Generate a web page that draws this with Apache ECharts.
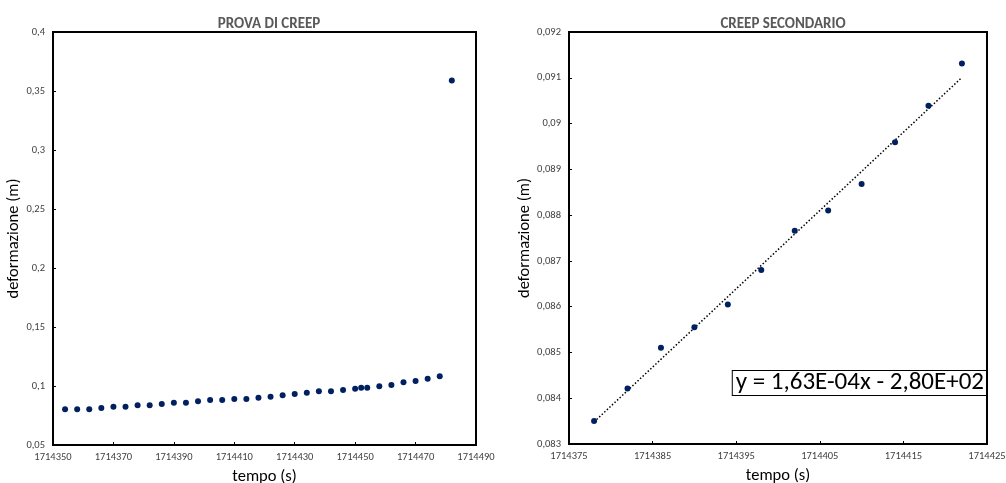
<!DOCTYPE html>
<html>
<head>
<meta charset="utf-8">
<script src="https://cdn.jsdelivr.net/npm/echarts@6/dist/echarts.min.js"></script>
<style>
html,body{margin:0;padding:0;background:#fff;}
#c{width:1006px;height:483px;}
</style>
</head>
<body>
<div id="c"></div>
<script>
// ---- data ----
const titleLeft = 'PROVA DI CREEP';
const titleRight = 'CREEP SECONDARIO';
const xName = 'tempo (s)';
const yName = 'deformazione (m)';
const equationText = 'y = 1,63E-04x - 2,80E+02';

const timeAll = [1714354,1714358,1714362,1714366,1714370,1714374,1714378,1714382,1714386,1714390,
  1714394,1714398,1714402,1714406,1714410,1714414,1714418,1714422,1714426,1714430,1714434,1714438,
  1714442,1714446,1714450,1714452,1714454,1714458,1714462,1714466,1714470,1714474,1714478,1714482];
const defAll = [0.0802,0.0802,0.0802,0.0813,0.0824,0.0824,0.0836,0.0836,0.0847,0.0858,
  0.0858,0.0870,0.0881,0.0881,0.0890,0.0890,0.0901,0.0909,0.0921,0.0932,0.0943,0.0955,
  0.0955,0.0966,0.0977,0.0986,0.0986,0.0997,0.1008,0.1031,0.1042,0.1062,0.1082,0.359];

const timeSec = [1714378,1714382,1714386,1714390,1714394,1714398,1714402,1714406,1714410,1714414,1714418,1714422];
const defSec = [0.0835,0.08421,0.0851,0.08555,0.08605,0.0868,0.08766,0.0881,0.08868,0.08959,0.09039,0.09131];

// linear regression trendline (from the secondary data)
const n = timeSec.length;
const mx = timeSec.reduce((a,b)=>a+b,0)/n;
const my = defSec.reduce((a,b)=>a+b,0)/n;
let sxy=0, sxx=0;
for (let i=0;i<n;i++){ sxy += (timeSec[i]-mx)*(defSec[i]-my); sxx += (timeSec[i]-mx)*(timeSec[i]-mx); }
const slope = sxy/sxx;
const trendX = [timeSec[0], timeSec[n-1]];
const trendData = trendX.map(x => [x, my + slope*(x-mx)]);

const zip = (a,b) => a.map((v,i)=>[v,b[i]]);
const fmt = d => v => (+v.toFixed(d)).toString().replace('.', ',');

const FONT = 'Carlito, Lato, "Open Sans", sans-serif';
const navy = '#002060';

function xAxisCfg(gi, min, max, interval){
  return {
    type:'value', gridIndex:gi, min:min, max:max, interval:interval,
    name:xName, nameLocation:'middle', nameGap:20,
    nameTextStyle:{fontFamily:FONT, fontSize:16.5, color:'#000'},
    axisLine:{show:true, lineStyle:{color:'#000', width:2}},
    axisTick:{show:true, inside:true, length:3, lineStyle:{color:'#000'}},
    axisLabel:{fontFamily:FONT, fontSize:10.5, color:'#404040', margin:7, formatter: v => String(v)},
    splitLine:{show:false}
  };
}
function yAxisCfg(gi, min, max, interval, dec, gap){
  return {
    type:'value', gridIndex:gi, min:min, max:max, interval:interval,
    name:yName, nameLocation:'middle', nameGap:gap,
    nameTextStyle:{fontFamily:FONT, fontSize:16.5, color:'#000'},
    axisLine:{show:true, lineStyle:{color:'#000', width:2}},
    axisTick:{show:true, inside:true, length:3, lineStyle:{color:'#000'}},
    axisLabel:{fontFamily:FONT, fontSize:10.5, color:'#404040', margin:8, formatter: fmt(dec)},
    splitLine:{show:false}
  };
}

const chart = echarts.init(document.getElementById('c'), null, {renderer:'canvas'});
chart.setOption({
  animation:false,
  backgroundColor:'#fff',
  title:[
    {text:titleLeft, left:264, top:12, textAlign:'center',
     textStyle:{fontFamily:FONT, fontSize:15, fontWeight:'bold', color:'#595959'}},
    {text:titleRight, left:778, top:12, textAlign:'center',
     textStyle:{fontFamily:FONT, fontSize:15, fontWeight:'bold', color:'#595959'}}
  ],
  grid:[
    {left:53, right:530, top:32, bottom:38, show:true, borderColor:'#000', borderWidth:2,
     containLabel:false, outerBoundsMode:'none'},
    {left:569, right:19, top:32, bottom:39, show:true, borderColor:'#000', borderWidth:2,
     containLabel:false, outerBoundsMode:'none'}
  ],
  xAxis:[ xAxisCfg(0, 1714350, 1714490, 20), xAxisCfg(1, 1714375, 1714425, 10) ],
  yAxis:[ yAxisCfg(0, 0.05, 0.4, 0.05, 2, 26), yAxisCfg(1, 0.083, 0.092, 0.001, 3, 32) ],
  series:[
    {type:'scatter', xAxisIndex:0, yAxisIndex:0, data:zip(timeAll, defAll),
     symbol:'circle', symbolSize:6, itemStyle:{color:navy, opacity:1}},
    {type:'line', xAxisIndex:1, yAxisIndex:1, data:trendData, showSymbol:false, symbol:'none',
     lineStyle:{color:'#000', width:1.5, type:[1.5,2]}, z:1},
    {type:'scatter', xAxisIndex:1, yAxisIndex:1, data:zip(timeSec, defSec),
     symbol:'circle', symbolSize:6, itemStyle:{color:navy, opacity:1}, z:3}
  ],
  graphic:[
    {type:'text', right:19, top:370, z:100,
     style:{text:equationText, font:'25px ' + FONT, lineHeight:24, fill:'#000',
            backgroundColor:'#fff', borderColor:'#000', borderWidth:1, padding:[0,2,0,3]}}
  ]
});
</script>
</body>
</html>
